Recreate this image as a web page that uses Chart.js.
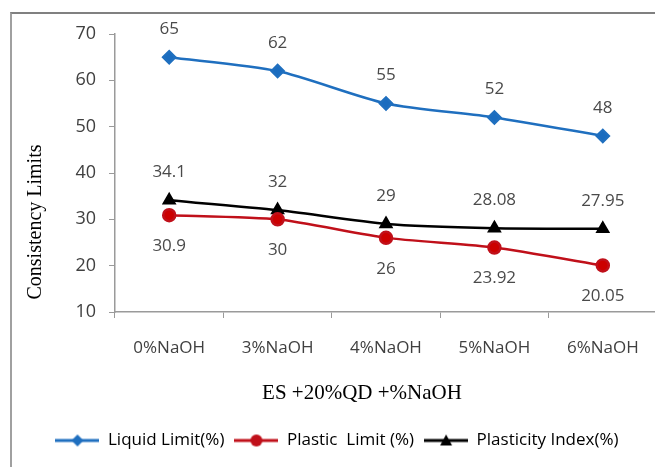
<!DOCTYPE html>
<html>
<head>
<meta charset="utf-8">
<script src="https://cdn.jsdelivr.net/npm/chart.js@4.4.0/dist/chart.umd.min.js"></script>
<style>
  html, body { margin: 0; padding: 0; background: #fff; overflow: hidden; width: 655px; height: 467px; }
  #frame { position: absolute; left: 10px; top: 12px; width: 700px; height: 500px; border-left: 2px solid #a0a0a0; border-top: 2px solid #808080; }
  #wrap { position: absolute; left: 0; top: 0; width: 670px; height: 467px; }
</style>
</head>
<body>
<div id="frame"></div>
<div id="wrap"><canvas id="chart" width="670" height="467"></canvas></div>
<script>
const categories = ["0%NaOH", "3%NaOH", "4%NaOH", "5%NaOH", "6%NaOH"];
const liquidLimit = [65, 62, 55, 52, 48];
const plasticLimit = [30.9, 30, 26, 23.92, 20.05];
const plasticityIndex = [34.1, 32, 29, 28.08, 27.95];
const liquidLabels = ["65", "62", "55", "52", "48"];
const plasticLabels = ["30.9", "30", "26", "23.92", "20.05"];
const indexLabels = ["34.1", "32", "29", "28.08", "27.95"];

Chart.defaults.font.family = "'Open Sans', sans-serif";
Chart.defaults.color = "#404040";

// legend symbol: short line with the marker in the middle
function legendSymbol(color, style) {
    const c = document.createElement("canvas");
    c.width = 44;
    c.height = 14;
    const g = c.getContext("2d");
    g.strokeStyle = color;
    g.lineWidth = 3;
    g.beginPath();
    g.moveTo(0, 7);
    g.lineTo(44, 7);
    g.stroke();
    g.fillStyle = color;
    g.beginPath();
    if (style === "rectRot") {
        g.moveTo(22, 1); g.lineTo(28, 7); g.lineTo(22, 13); g.lineTo(16, 7);
    } else if (style === "circle") {
        g.arc(22, 7, 6, 0, Math.PI * 2);
    } else {
        g.moveTo(22, 1); g.lineTo(28, 12); g.lineTo(16, 12);
    }
    g.closePath();
    g.fill();
    return c;
}

const labelPlugin = {
    id: "valueLabels",
    afterDatasetsDraw(chart) {
        const ctx = chart.ctx;
        ctx.save();
        ctx.font = "17px 'Open Sans', sans-serif";
        ctx.fillStyle = "#4a4a4a";
        ctx.textAlign = "center";
        ctx.textBaseline = "middle";
        chart.data.datasets.forEach((ds, i) => {
            const meta = chart.getDatasetMeta(i);
            meta.data.forEach((pt, j) => {
                ctx.fillText(ds.valueLabels[j], pt.x, pt.y + ds.labelOffset);
            });
        });
        // axis titles
        ctx.fillStyle = "#000";
        ctx.font = "21px 'Liberation Serif', serif";
        ctx.fillText("ES +20%QD +%NaOH", 362, 393);
        ctx.font = "20px 'Liberation Serif', serif";
        ctx.translate(36, 222);
        ctx.rotate(-Math.PI / 2);
        ctx.fillText("Consistency Limits", 0, 0);
        ctx.restore();
    }
};

const ctx = document.getElementById("chart").getContext("2d");
new Chart(ctx, {
    type: "line",
    data: {
        labels: categories,
        datasets: [
            {
                label: "Liquid Limit(%)",
                data: liquidLimit,
                valueLabels: liquidLabels,
                labelOffset: -28,
                borderColor: "#1f6fbf",
                backgroundColor: "#1a6cbf",
                borderWidth: 2.5,
                pointStyle: "rectRot",
                pointRadius: 6,
                tension: 0.25,
                legendIcon: legendSymbol("#1f6fbf", "rectRot"),
            },
            {
                label: "Plastic  Limit (%)",
                data: plasticLimit,
                valueLabels: plasticLabels,
                labelOffset: 31,
                borderColor: "#c0101a",
                backgroundColor: "#cc0000",
                borderWidth: 2.5,
                pointStyle: "circle",
                pointRadius: 6,
                tension: 0.2,
                legendIcon: legendSymbol("#c0101a", "circle"),
            },
            {
                label: "Plasticity Index(%)",
                data: plasticityIndex,
                valueLabels: indexLabels,
                labelOffset: -28,
                borderColor: "#000000",
                backgroundColor: "#000000",
                borderWidth: 2.5,
                pointStyle: "triangle",
                pointRadius: 6,
                tension: 0.2,
                legendIcon: legendSymbol("#000000", "triangle"),
            },
        ],
    },
    options: {
        responsive: false,
        animation: false,
        layout: { padding: { top: 34, right: 13, bottom: 8, left: 17 } },
        plugins: {
            tooltip: { enabled: false },
            legend: {
                position: "bottom",
                labels: {
                    usePointStyle: true,
                    pointStyleWidth: 44,
                    padding: 10,
                    color: "#000",
                    font: { size: 17 },
                    generateLabels(chart) {
                        return chart.data.datasets.map((ds, i) => ({
                            text: ds.label,
                            pointStyle: ds.legendIcon,
                            fillStyle: ds.borderColor,
                            strokeStyle: ds.borderColor,
                            lineWidth: 0,
                            datasetIndex: i,
                            fontColor: "#000",
                        }));
                    },
                },
            },
        },
        scales: {
            x: {
                offset: true,
                grid: { display: true, drawOnChartArea: false, offset: true, tickLength: 6, color: "#9a9a9a" },
                border: { color: "#9a9a9a", width: 1.5 },
                ticks: { font: { size: 17 }, color: "#404040", padding: 20 },
                afterFit(s) { s.height = 110; },
            },
            y: {
                min: 10,
                max: 70,
                grid: { display: true, drawOnChartArea: false, tickLength: 6, color: "#9a9a9a" },
                border: { color: "#9a9a9a", width: 1.5 },
                ticks: { stepSize: 10, font: { size: 18 }, color: "#404040", padding: 13 },
                afterFit(s) { s.width = 98; },
            },
        },
    },
    plugins: [labelPlugin],
});
</script>
</body>
</html>
